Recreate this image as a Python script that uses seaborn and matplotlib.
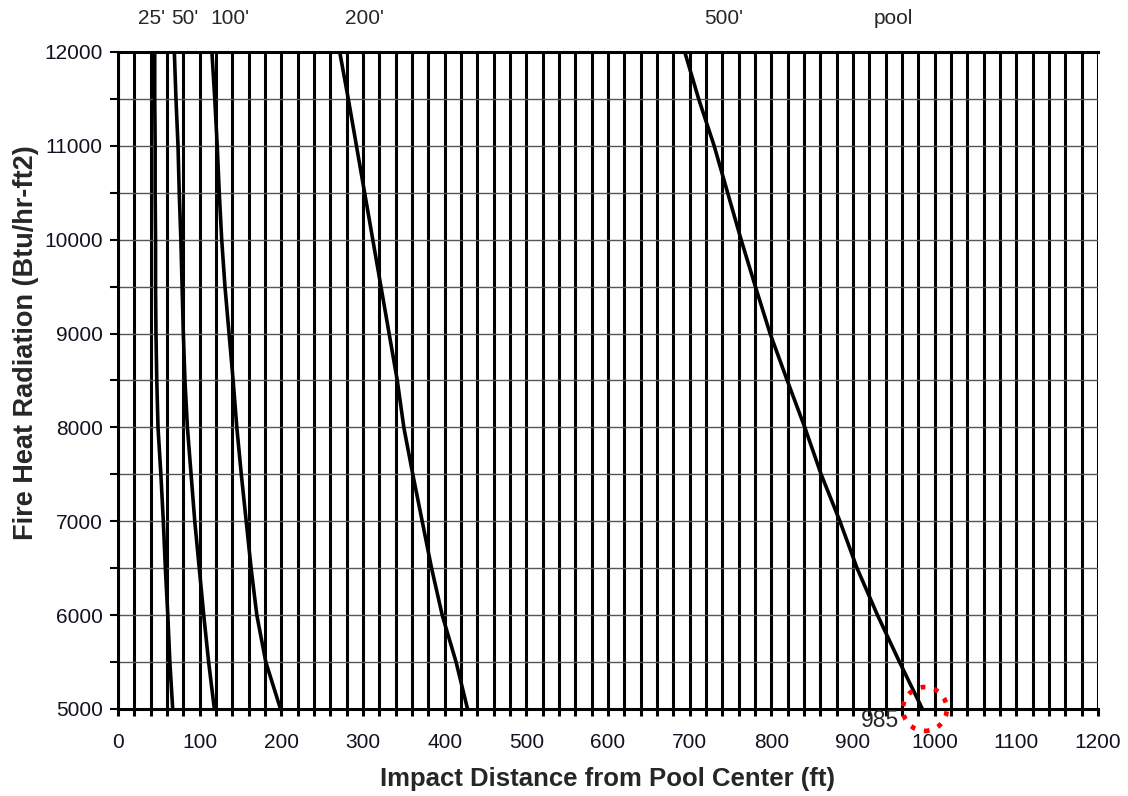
import numpy as np
import pandas as pd
import seaborn as sns
import matplotlib.pyplot as plt
from matplotlib.ticker import MultipleLocator

# heat radiation levels (Btu/hr-ft2), shared by every curve
radiation = [12000, 11500, 11000, 10500, 10000, 9500, 9000, 8500,
             8000, 7500, 7000, 6500, 6000, 5500, 5000]

# impact distance (ft) for each pool diameter
dist_25 = [45, 45, 45.5, 45.5, 46, 46, 46.5, 47.5, 49, 52.5, 55.5, 58, 61, 63.5, 67]
dist_50 = [69, 71, 73.5, 75, 77, 78.5, 80, 82, 85, 89.5, 94, 99.5, 105, 111, 118]
dist_100 = [115, 118.5, 121.5, 124, 127, 131, 136, 141, 145.5, 151, 157, 163, 170, 181, 199]
dist_200 = [271.5, 282, 292, 302, 312, 322, 332, 342, 350, 361, 372.5, 384, 397, 414, 428]
dist_500 = [694, 711, 730, 746.5, 763, 780.5, 798.5, 819.5, 841, 861, 884, 905, 930, 957, 985]

pool_labels = ["25'", "50'", "100'", "200'", "500'", "pool"]
label_x = [41, 82, 137, 302, 742, 949]   # where the top labels sit

highlight_dist = dist_500[-1]
highlight_rad = radiation[-1]

rows = []
for name, d in zip(pool_labels[:5], [dist_25, dist_50, dist_100, dist_200, dist_500]):
    for r, x in zip(radiation, d):
        rows.append({"pool": name, "distance": x, "radiation": r})
df = pd.DataFrame(rows)

sns.set_style("white")
plt.rcParams['font.family'] = ['Liberation Sans', 'DejaVu Sans']

fig = plt.figure(figsize=(11.28, 7.96), dpi=100)
ax = fig.add_axes([0.1046, 0.1093, 0.8688, 0.8254])

sns.lineplot(data=df, x="distance", y="radiation", units="pool", estimator=None,
             sort=False, color="black", linewidth=2.6, legend=False, ax=ax, zorder=5)

ax.set_xlim(0, 1200)
ax.set_ylim(5000, 12000)
ax.xaxis.set_major_locator(MultipleLocator(100))
ax.xaxis.set_minor_locator(MultipleLocator(20))
ax.yaxis.set_major_locator(MultipleLocator(1000))
ax.yaxis.set_minor_locator(MultipleLocator(500))

ax.grid(which="both", axis="x", color="black", linewidth=2.2)
ax.grid(which="both", axis="y", color="#555555", linewidth=1.0)
ax.set_axisbelow(True)

ax.tick_params(axis="x", which="both", direction="out", length=5, width=2.2,
               color="black", labelsize=15, pad=12, bottom=True, labelcolor="#111122")
ax.tick_params(axis="y", which="both", direction="out", length=6, width=1.5,
               color="black", labelsize=15, pad=5, left=True, labelcolor="#111122")

for side in ["left", "bottom", "top"]:
    ax.spines[side].set_color("black")
    ax.spines[side].set_linewidth(2.2)
ax.spines["right"].set_visible(False)

ax.set_xlabel("Impact Distance from Pool Center (ft)", fontsize=18.5, fontweight="bold")
ax.set_ylabel("Fire Heat Radiation (Btu/hr-ft2)", fontsize=19.5, fontweight="bold")
ax.xaxis.set_label_coords(0.5, -0.088)
ax.yaxis.set_label_coords(-0.081, 0.557)

for lab, lx in zip(pool_labels, label_x):
    ax.text(lx, 12360, lab, ha="center", va="center", fontsize=15, clip_on=False)

ax.scatter([highlight_dist + 3], [highlight_rad], s=1000, facecolors="none", edgecolors="red",
           linewidths=3.4, linestyles=(0, (1, 1.9)), clip_on=False, zorder=6)
ax.text(highlight_dist - 28, highlight_rad - 120, str(highlight_dist), ha="right", va="center",
        fontsize=16.5, zorder=7)

fig.savefig("out.png", dpi=100)
